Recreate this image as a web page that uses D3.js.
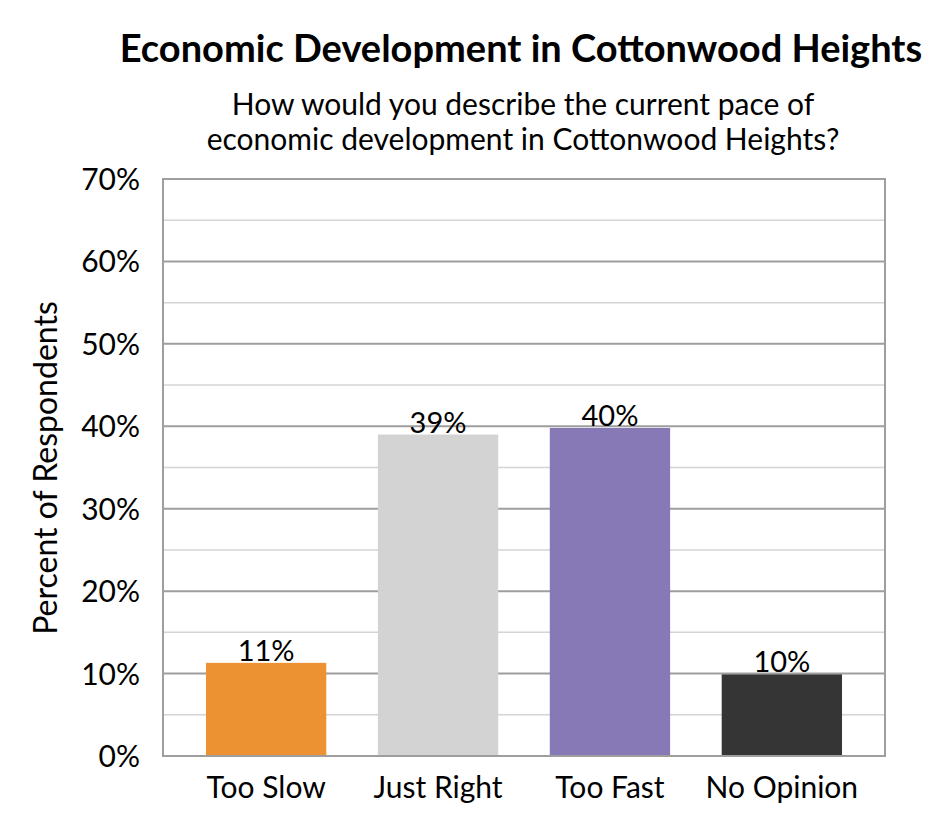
<!DOCTYPE html>
<html>
<head>
<meta charset="utf-8">
<script src="https://cdn.jsdelivr.net/npm/d3@7"></script>
<style>
  body { margin: 0; background: #fff; }
  svg { display: block; }
  text { font-family: Lato, "Open Sans", sans-serif; fill: #000; }
</style>
</head>
<body>
<div id="chart"></div>
<script>
const categories = ["Too Slow", "Just Right", "Too Fast", "No Opinion"];
const values = [11.3, 39, 39.8, 9.9];
const valueLabels = ["11%", "39%", "40%", "10%"];
const colors = ["#ec9232", "#d3d3d3", "#8779b5", "#353535"];
const yTicks = [0, 10, 20, 30, 40, 50, 60, 70];
const minorTicks = [5, 15, 25, 35, 45, 55, 65];

const width = 945;
const height = 840;
const margin = {top: 179, right: 60, bottom: 84, left: 163};

const svg = d3.select("#chart")
    .append("svg")
        .attr("width", width)
        .attr("height", height);

const xScale = d3.scaleBand()
    .domain(categories)
    .range([margin.left, width - margin.right])
    .paddingInner(0.3)
    .paddingOuter(0.25);

const yScale = d3.scaleLinear()
    .domain([0, 70])
    .range([height - margin.bottom, margin.top]);

svg.append("text")
    .attr("x", 521).attr("y", 62)
    .attr("text-anchor", "middle")
    .style("font-size", "38px").style("font-weight", "bold")
    .text("Economic Development in Cottonwood Heights");

svg.append("text")
    .attr("x", 523).attr("y", 115)
    .attr("text-anchor", "middle")
    .style("font-size", "30px")
    .text("How would you describe the current pace of");
svg.append("text")
    .attr("x", 523).attr("y", 150)
    .attr("text-anchor", "middle")
    .style("font-size", "30px")
    .text("economic development in Cottonwood Heights?");

svg.append("text")
    .attr("x", 57).attr("y", 468)
    .attr("transform", "rotate(-90,57,468)")
    .attr("text-anchor", "middle")
    .style("font-size", "32px")
    .text("Percent of Respondents");

// minor gridlines
svg.selectAll(".minor")
    .data(minorTicks)
    .enter().append("line")
        .attr("x1", margin.left).attr("x2", width - margin.right)
        .attr("y1", d => yScale(d)).attr("y2", d => yScale(d))
        .attr("stroke", "#d4d4d4").attr("stroke-width", 1.5);

// major gridlines
svg.selectAll(".major")
    .data(yTicks)
    .enter().append("line")
        .attr("x1", margin.left).attr("x2", width - margin.right)
        .attr("y1", d => yScale(d)).attr("y2", d => yScale(d))
        .attr("stroke", "#9e9e9e").attr("stroke-width", 2);

svg.selectAll(".bar")
    .data(categories)
    .enter().append("rect")
        .attr("x", d => xScale(d))
        .attr("y", (d, i) => yScale(values[i]))
        .attr("width", xScale.bandwidth())
        .attr("height", (d, i) => yScale(0) - yScale(values[i]))
        .attr("fill", (d, i) => colors[i]);

svg.selectAll(".vlabel")
    .data(categories)
    .enter().append("text")
        .attr("x", d => xScale(d) + xScale.bandwidth() / 2)
        .attr("y", (d, i) => yScale(values[i]) - 2)
        .attr("text-anchor", "middle")
        .style("font-size", "29px")
        .text((d, i) => valueLabels[i]);

// plot border
svg.append("rect")
    .attr("x", margin.left).attr("y", margin.top)
    .attr("width", width - margin.left - margin.right)
    .attr("height", height - margin.top - margin.bottom)
    .attr("fill", "none")
    .attr("stroke", "#9e9e9e").attr("stroke-width", 2);

// y tick labels
svg.selectAll(".ytick")
    .data(yTicks)
    .enter().append("text")
        .attr("x", margin.left - 23)
        .attr("y", d => yScale(d) + 11)
        .attr("text-anchor", "end")
        .style("font-size", "30px")
        .text(d => d + "%");

// category labels
svg.selectAll(".xtick")
    .data(categories)
    .enter().append("text")
        .attr("x", d => xScale(d) + xScale.bandwidth() / 2)
        .attr("y", yScale(0) + 42)
        .attr("text-anchor", "middle")
        .style("font-size", "30px")
        .text(d => d);
</script>
</body>
</html>
